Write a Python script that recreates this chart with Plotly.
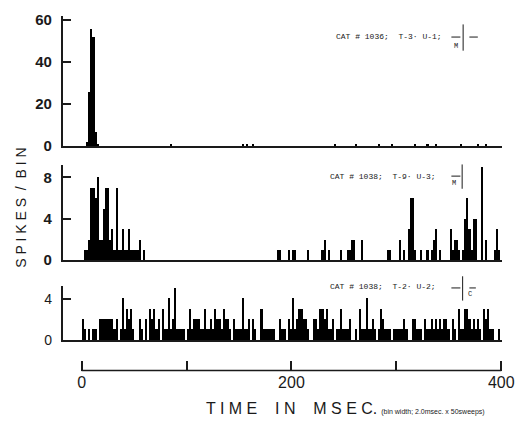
import plotly.graph_objects as go

W, H = 526, 435

# ---------------- data ----------------
bin_width_ms = 2
bin_start_ms = list(range(0, 400, bin_width_ms))

# Panel 1: CAT # 1036; T-3 U-1  (sparse: bin index -> spikes/bin)
p1_bins = [2, 3, 4, 5, 6, 7, 42, 76, 78, 81, 120, 130, 141, 147, 158, 164, 168, 180, 188, 192]
p1_counts = [2, 26, 56, 52, 7, 1, 1, 1, 1, 1, 1, 1, 1, 1, 1, 1, 1, 1, 1, 1]

# Panel 2: CAT # 1038; T-9 U-3
p2_bins = [1, 2, 3, 4, 5, 6, 7, 8, 9, 10, 11, 12, 13, 14, 15, 16, 17, 18, 19, 20, 21, 22,
           23, 24, 25, 26, 27, 29,
           93, 94, 98, 100, 101, 107, 114, 115, 117, 123, 126, 127, 128, 129, 133,
           145, 146, 151, 153, 155, 156, 157, 158, 161,
           164, 166, 167, 168, 170, 175, 176, 177, 178, 179, 181, 182, 183, 184, 185,
           186, 187, 190, 192, 196, 197, 198]
p2_counts = [1, 1, 2, 7, 7, 6, 8, 2, 2, 5, 7, 7, 2, 3, 1, 7, 1, 1, 3, 1, 1, 3,
             1, 1, 1, 1, 2, 1,
             1, 1, 1, 1, 1, 1, 1, 2, 1, 1, 1, 1, 2, 2, 2,
             1, 1, 2, 1, 3, 6, 6, 1, 1,
             1, 1, 2, 3, 1, 3, 1, 2, 2, 1, 1, 4, 6, 3, 1,
             4, 4, 9, 2, 1, 3, 1]

# Panel 3: CAT # 1038; T-2 U-2  (all 200 bins)
p3_counts = [2, 1, 0, 1, 0, 1, 1, 0, 2, 2, 2, 2, 2, 2, 2, 1, 2, 0, 1, 4,
             1, 3, 2, 3, 1, 0, 0, 2, 1, 0, 2, 0, 3, 2, 3, 1, 2, 0, 3, 1,
             1, 4, 1, 2, 5, 1, 1, 1, 1, 0, 1, 3, 1, 2, 2, 2, 1, 1, 3, 1,
             1, 2, 1, 3, 2, 2, 1, 3, 2, 2, 1, 0, 2, 1, 1, 1, 4, 1, 1, 2,
             0, 2, 1, 0, 0, 3, 1, 1, 1, 1, 1, 1, 0, 0, 2, 1, 1, 0, 2, 1,
             4, 1, 2, 3, 3, 2, 2, 1, 0, 0, 2, 2, 1, 3, 3, 2, 3, 1, 1, 2,
             0, 1, 1, 3, 1, 1, 1, 2, 0, 0, 1, 0, 3, 1, 1, 4, 1, 1, 2, 1,
             0, 1, 3, 2, 1, 1, 1, 0, 1, 1, 1, 1, 1, 2, 1, 0, 0, 2, 2, 1,
             1, 1, 0, 2, 1, 1, 2, 1, 2, 1, 2, 1, 2, 2, 1, 0, 2, 1, 0, 3,
             1, 1, 3, 3, 2, 1, 2, 1, 2, 1, 0, 3, 2, 3, 1, 1, 0, 0, 1, 0]

panel_labels = ["CAT # 1036;  T-3\u00b7 U-1;", "CAT # 1038;  T-9\u00b7 U-3;", "CAT # 1038;  T-2\u00b7 U-2;"]
p1_ticks = [0, 20, 40, 60]
p2_ticks = [0, 4, 8]
p3_ticks = [0, 4]
time_ticks = [0, 100, 200, 300, 400]
time_ticktext = ["0", "", "200", "", "400"]
time_range = [0, 400]

# ---------------- helpers ----------------
def px(x):
    return x / W

def py(y):
    return 1 - y / H

def full(bins, counts):
    arr = [0] * len(bin_start_ms)
    for b, c in zip(bins, counts):
        arr[b] = c
    return arr

centers = [s + bin_width_ms / 2 for s in bin_start_ms]
p1 = full(p1_bins, p1_counts)
p2 = full(p2_bins, p2_counts)

fig = go.Figure()
for i, vals in enumerate([p1, p2, p3_counts]):
    sfx = "" if i == 0 else str(i + 1)
    fig.add_trace(go.Bar(x=centers, y=vals, width=bin_width_ms,
                         marker=dict(color="black", line=dict(width=0)),
                         xaxis="x" + sfx, yaxis="y" + sfx, showlegend=False,
                         hoverinfo="skip"))
# invisible trace for the standalone time axis
fig.add_trace(go.Scatter(x=time_range, y=[0.5, 0.5], mode="markers", marker=dict(opacity=0),
                         xaxis="x4", yaxis="y4", showlegend=False, hoverinfo="skip"))

xdom = [px(63), px(512)]
xrange_ = [-18, 400.5]
ink = "#1a1a1a"
tickfont_b = dict(family="Liberation Sans", size=15, color=ink, weight="bold")
tickfont_r = dict(family="Liberation Sans", size=14, color=ink)

def xa(anchor):
    return dict(domain=xdom, range=xrange_, anchor=anchor, showline=True, linecolor=ink,
                linewidth=1.5, showticklabels=False, ticks="", showgrid=False, zeroline=False)

def ya(anchor, dom, rng, ticks, font):
    return dict(domain=dom, range=rng, anchor=anchor, showline=True, linecolor=ink,
                linewidth=1.5, tickvals=ticks, ticks="inside", ticklen=9, tickwidth=1.5,
                tickcolor=ink, showgrid=False, zeroline=False, tickfont=font,
                ticklabelstandoff=6)

fig.update_layout(
    width=W, height=H, margin=dict(l=0, r=0, t=0, b=0),
    paper_bgcolor="white", plot_bgcolor="rgba(0,0,0,0)", bargap=0,
    xaxis=xa("y"), yaxis=ya("x", [py(146), py(12)], [0, 62], p1_ticks, tickfont_b),
    xaxis2=xa("y2"), yaxis2=ya("x2", [py(263.5), py(165.5)], [0, 9.2], p2_ticks, tickfont_b),
    xaxis3=xa("y3"), yaxis3=ya("x3", [py(345.7), py(290.5)], [0, 5.2], p3_ticks, tickfont_r),
    xaxis4=dict(domain=[px(79.1), px(514.2)], range=[-3, 403], anchor="y4", showline=False,
                tickvals=time_ticks, ticktext=time_ticktext,
                ticks="inside", ticklen=10, tickwidth=1.5, tickcolor=ink, showgrid=False,
                zeroline=False, tickfont=dict(family="Liberation Sans", size=16, color=ink),
                ticklabelstandoff=0),
    yaxis4=dict(domain=[py(377), py(366)], range=[0, 1], anchor="x4", showline=False,
                showticklabels=False, ticks="", showgrid=False, zeroline=False),
)

annotations = [
    dict(x=px(21), y=py(210), xref="paper", yref="paper", xanchor="center", yanchor="middle",
         textangle=-90, text="S P I K E S  /  B I N", showarrow=False,
         font=dict(family="Liberation Sans", size=14, color=ink)),
    dict(x=px(207), y=py(416), xref="paper", yref="paper", xanchor="left", yanchor="middle",
         text="T I M E&nbsp;&nbsp;&nbsp; I N&nbsp;&nbsp;&nbsp; M S E C."
              "<span style='font-size:7px'>&nbsp;&nbsp;(bin width; 2.0msec. x 50sweeps)</span>",
         showarrow=False, font=dict(family="Liberation Sans", size=16, color=ink)),
]
label_pos = [(340, 33), (334, 177), (334, 290)]
for (lx, ly), txt in zip(label_pos, panel_labels):
    annotations.append(dict(x=px(lx), y=py(ly), xref="paper", yref="paper", xanchor="left",
                            yanchor="middle", text=txt, showarrow=False,
                            font=dict(family="Liberation Mono", size=8, color=ink)))
# little field symbols
sym = [("M", 465, 43), ("M", 463, 184), ("C", 479, 298)]
for t, sx, sy in sym:
    annotations.append(dict(x=px(sx), y=py(sy), xref="paper", yref="paper", xanchor="center",
                            yanchor="middle", text=t, showarrow=False,
                            font=dict(family="Liberation Mono", size=7, color=ink)))
fig.update_layout(annotations=annotations)

shapes = [dict(type="line", xref="x4", yref="paper", x0=time_range[0], x1=time_range[1],
               y0=py(377), y1=py(377), line=dict(color=ink, width=1.5))]
cross = [(472, 21, 48, 34, 460, 487), (471, 165, 190, 177, 460, 478), (471.5, 280, 305, 292, 460, 485)]
for vx, vy0, vy1, hy, hx0, hx1 in cross:
    shapes.append(dict(type="line", xref="paper", yref="paper", x0=px(vx), x1=px(vx),
                       y0=py(vy0), y1=py(vy1), line=dict(color=ink, width=1)))
    shapes.append(dict(type="line", xref="paper", yref="paper", x0=px(hx0), x1=px(hx1),
                       y0=py(hy), y1=py(hy), line=dict(color=ink, width=1, dash="dash")))
fig.update_layout(shapes=shapes)

fig.write_html("out.html")
